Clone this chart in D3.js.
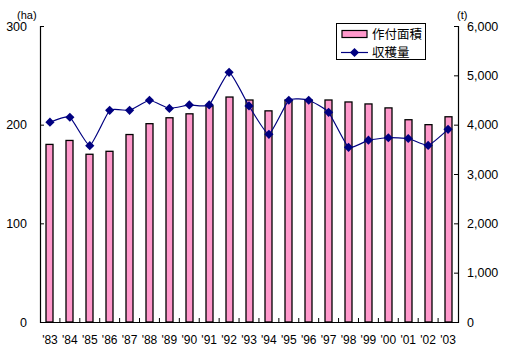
<!DOCTYPE html>
<html><head><meta charset="utf-8">
<script src="https://cdn.jsdelivr.net/npm/d3@7"></script>
<style>
html,body{margin:0;padding:0;background:#fff;}
text{font-family:"Liberation Sans",Arial,sans-serif;fill:#000;}
.jp{font-family:"Noto Sans CJK JP","Liberation Sans",sans-serif;}
</style></head>
<body><svg id="c" width="505" height="364"></svg>
<script>
const years = ["'83","'84","'85","'86","'87","'88","'89","'90","'91","'92","'93","'94","'95","'96","'97","'98","'99","'00","'01","'02","'03"];
const area = [180,184,170,173,190,201,207,211,219,228,225,214,225,225,225,223,221,217,205,200,208];
const harvest = [4050,4150,3575,4290,4290,4495,4330,4400,4400,5060,4380,3805,4495,4495,4250,3540,3685,3735,3720,3580,3905];
const leftTicks = [0,100,200,300];
const rightTicks = [0,1000,2000,3000,4000,5000,6000];
const seriesNames = ["作付面積","収穫量"];

const svg = d3.select("#c");
const x0 = 40, x1 = 458, yTop = 26, yBot = 322;
const x = d3.scaleBand().domain(years).range([x0, x1]);
const yL = d3.scaleLinear().domain([0,300]).range([yBot, yTop]);
const yR = d3.scaleLinear().domain([0,6000]).range([yBot, yTop]);

// bars
const bw = 7;
svg.append("g").selectAll("rect").data(area).join("rect")
  .attr("x", (d,i) => Math.round(x(years[i]) + x.bandwidth()/2 - bw/2))
  .attr("y", d => yL(d))
  .attr("width", bw)
  .attr("height", d => yBot - yL(d))
  .attr("fill", "#ff99cc").attr("stroke", "#000").attr("stroke-width", 1.3);

// axes
const axL = svg.append("g").attr("transform", `translate(${x0},0)`)
  .call(d3.axisRight(yL).tickValues(leftTicks).tickSize(4).tickFormat(""));
const axR = svg.append("g").attr("transform", `translate(${x1},0)`)
  .call(d3.axisLeft(yR).tickValues(rightTicks).tickSize(4).tickFormat(""));
const axB = svg.append("g").attr("transform", `translate(0,${yBot})`)
  .call(d3.axisTop(x).tickSize(0).tickFormat(""));
[axL, axR, axB].forEach(a => { a.selectAll("path").attr("stroke","#000").attr("stroke-width",1.2); a.selectAll("line").attr("stroke","#000"); });
svg.append("g").selectAll("line").data(years.slice(1)).join("line")
  .attr("x1", d => x(d)).attr("x2", d => x(d))
  .attr("y1", yBot).attr("y2", yBot - 4).attr("stroke", "#000");

// tick labels
svg.append("g").selectAll("text").data(leftTicks).join("text")
  .attr("x", 27).attr("y", d => yL(d)).attr("dy", "0.36em")
  .attr("text-anchor", "end").attr("font-size", 12.5).text(d => d);
svg.append("g").selectAll("text").data(rightTicks).join("text")
  .attr("x", 467).attr("y", d => yR(d)).attr("dy", "0.36em")
  .attr("font-size", 12.5).text(d => d3.format(",")(d));
svg.append("g").selectAll("text").data(years).join("text")
  .attr("x", d => x(d) + x.bandwidth()/2).attr("y", 343.5)
  .attr("text-anchor", "middle").attr("font-size", 12).text(d => d);
svg.append("text").attr("x", 17).attr("y", 19).attr("font-size", 11).text("(ha)");
svg.append("text").attr("x", 457).attr("y", 19).attr("font-size", 11).text("(t)");

// line
const cx = (i) => x(years[i]) + x.bandwidth()/2;
const line = d3.line().x((d,i) => cx(i)).y(d => yR(d)).curve(d3.curveCardinal.tension(0.55));
svg.append("path").datum(harvest).attr("d", line)
  .attr("fill", "none").attr("stroke", "#000080").attr("stroke-width", 1.2);
const diamond = "M0,-4.6L4.6,0L0,4.6L-4.6,0Z";
svg.append("g").selectAll("path").data(harvest).join("path")
  .attr("transform", (d,i) => `translate(${cx(i)},${yR(d)})`)
  .attr("d", diamond).attr("fill", "#000080");

// legend
const lg = svg.append("g");
lg.append("rect").attr("x", 336.5).attr("y", 23.5).attr("width", 89).attr("height", 36)
  .attr("fill", "#fff").attr("stroke", "#000").attr("stroke-width", 1);
lg.append("rect").attr("x", 342).attr("y", 30.5).attr("width", 25).attr("height", 7)
  .attr("fill", "#ff99cc").attr("stroke", "#000").attr("stroke-width", 1.2);
lg.append("line").attr("x1", 341).attr("x2", 368).attr("y1", 52.5).attr("y2", 52.5)
  .attr("stroke", "#000080").attr("stroke-width", 1.2);
lg.append("path").attr("transform", "translate(354.5,52.5)").attr("d", diamond).attr("fill", "#000080");
lg.append("text").attr("class","jp").attr("x", 372).attr("y", 34).attr("dy","0.36em").attr("font-size", 12.5).text(seriesNames[0]);
lg.append("text").attr("class","jp").attr("x", 372).attr("y", 52.5).attr("dy","0.36em").attr("font-size", 12.5).text(seriesNames[1]);
</script></body></html>
